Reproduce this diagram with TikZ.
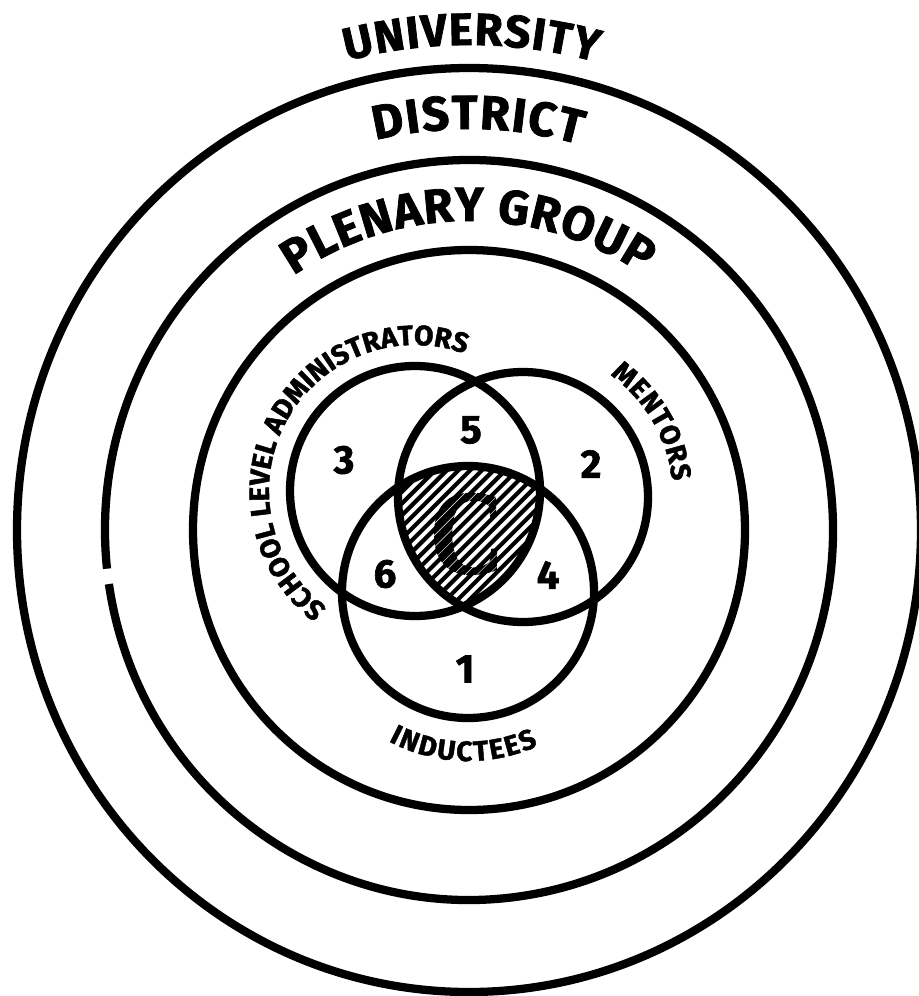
\documentclass[tikz,border=0pt]{standalone}
\usepackage{fontspec}
\newfontfamily\lblfont{Fira Sans}[BoldFeatures={FakeBold=1.6}]
\newfontfamily\cfont{Liberation Serif}[BoldFeatures={FakeBold=1.5}]
\usetikzlibrary{decorations.text}
\newcommand\ufont{\lblfont\bfseries\fontsize{34}{34}\selectfont}
\newcommand\dfont{\lblfont\bfseries\fontsize{36}{36}\selectfont}
\newcommand\pfont{\lblfont\bfseries\fontsize{36}{36}\selectfont}
\newcommand\sfont{\lblfont\bfseries\fontsize{21}{21}\selectfont}
\tikzset{
  ring/.style={line width=6.2pt},
  venn/.style={line width=6.2pt},
  hatchline/.style={line width=3.1pt},
  cutline/.style={white, line width=0.35pt},
  num/.style={font=\lblfont\bfseries\fontsize{30}{30}\selectfont, inner sep=0pt},
  bigc/.style={font=\cfont\bfseries\fontsize{90}{90}\selectfont, inner sep=0pt, xscale=0.86, text=black},
  curved/.style={decorate, decoration={text along path, text={#1}, text align={fit to path}}}
}
\begin{document}
\begin{tikzpicture}[x=0.75pt,y=0.75pt]
\useasboundingbox (0,0) rectangle (919,-996);
\fill[white] (0,0) rectangle (919,-996);
% rings
\draw[ring] (469,-530) ellipse[x radius=452, y radius=462];
\draw[ring] ([shift={(188.4:364 and 370)}]469,-530) arc[start angle=188.4, end angle=546, x radius=364, y radius=370];
\draw[ring] (469,-530) ellipse[x radius=276, y radius=280];
% ring labels
\path[curved={|\ufont|UNIVERSITY}] ([shift={(104.6:485)}]469,-530) arc[start angle=104.6, end angle=74.8, radius=485];
\path[curved={|\dfont|DISTRICT}] ([shift={(103.5:401)}]469,-530) arc[start angle=103.5, end angle=74, radius=401];
\path[curved={|\pfont|PLENARY GROUP}] ([shift={(124.6:309)}]469,-530) arc[start angle=124.6, end angle=55.9, radius=309];
% venn labels
\path[curved={|\sfont|SCHOOL LEVEL ADMINISTRATORS}] ([shift={(233:146)}]415,-491) arc[start angle=233, end angle=70, radius=146];
\path[curved={|\sfont|MENTORS}] ([shift={(54.5:150)}]523,-497) arc[start angle=54.5, end angle=6, radius=150];
\path[curved={|\sfont|INDUCTEES}] ([shift={(242:169)}]468,-592) arc[start angle=242, end angle=294.5, radius=169];
% hatched core
\begin{scope}
  \clip (415,-491) circle[radius=125];
  \clip (523,-497) circle[radius=125];
  \clip (468,-592) circle[radius=126];
  \foreach \k in {-18,...,18} \draw[hatchline] (316+11.7*\k,-683) -- (616+11.7*\k,-383);
  \node[bigc] (C) at (467,-534) {C};
  \foreach \k in {-18,...,18} \draw[cutline] (321.85+11.7*\k,-683) -- (621.85+11.7*\k,-383);
\end{scope}
% venn circles
\draw[venn] (415,-491) circle[radius=125];
\draw[venn] (523,-497) circle[radius=125];
\draw[venn] (468,-592) circle[radius=126];
% numbers
\node[num] (n3) at (344,-460) {3};
\node[num] (n5) at (471,-430) {5};
\node[num] (n2) at (591,-464) {2};
\node[num] (n6) at (385,-574) {6};
\node[num] (n4) at (548,-575) {4};
\node[num] (n1) at (465,-669) {1};
\end{tikzpicture}
\end{document}
